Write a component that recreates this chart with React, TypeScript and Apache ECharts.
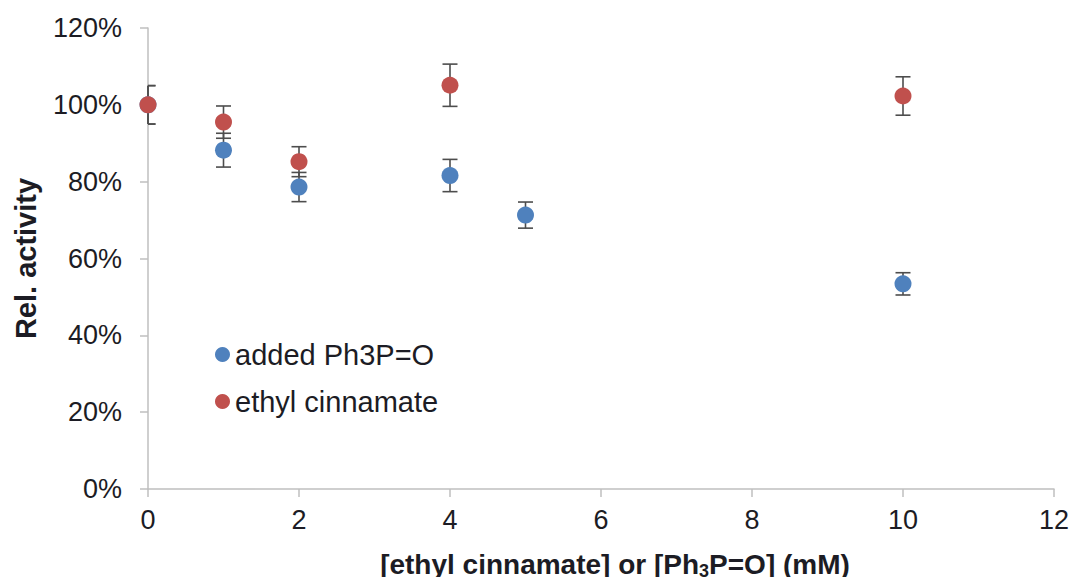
import React, { useEffect, useRef } from "react";
import * as echarts from "echarts";

// Concentration (mM)
const phosphineOxideX = [0, 1, 2, 4, 5, 10];
const phosphineOxideY = [100, 88.2, 78.6, 81.6, 71.3, 53.4];
const phosphineOxideErr = [5.0, 4.4, 3.8, 4.2, 3.4, 2.9];

const cinnamateX = [0, 1, 2, 4, 10];
const cinnamateY = [100, 95.5, 85.2, 105.1, 102.3];
const cinnamateErr = [5.0, 4.2, 3.9, 5.5, 5.0];

const seriesNames = ["added Ph3P=O", "ethyl cinnamate"];
const seriesColors = ["#4F81BD", "#C0504D"];

const FONT = "'Liberation Sans', Arial, sans-serif";
const TEXT_COLOR = "#1c1c24";
const AXIS_COLOR = "#BFBFBF";

const points = (xs: number[], ys: number[]) => xs.map((x, i) => [x, ys[i]]);
const bars = (xs: number[], ys: number[], es: number[]) =>
  xs.map((x, i) => [x, ys[i] - es[i], ys[i] + es[i]]);

function errorBarSeries(name: string, data: number[][]) {
  return {
    type: "custom",
    name,
    z: 1,
    silent: true,
    data,
    renderItem: (params: any, api: any) => {
      const x = api.value(0);
      const lo = api.coord([x, api.value(1)]);
      const hi = api.coord([x, api.value(2)]);
      const half = 7.5;
      const left = params.coordSys.x;
      const style = { stroke: "#4d4d4d", lineWidth: 1.6 };
      const cap = (y: number) => ({
        type: "line",
        shape: { x1: Math.max(lo[0] - half, left), y1: y, x2: lo[0] + half, y2: y },
        style,
      });
      return {
        type: "group",
        children: [
          { type: "line", shape: { x1: lo[0], y1: lo[1], x2: hi[0], y2: hi[1] }, style },
          cap(lo[1]),
          cap(hi[1]),
        ],
      };
    },
  };
}

export default function App() {
  const ref = useRef<HTMLDivElement>(null);

  useEffect(() => {
    if (!ref.current) return;
    const chart = echarts.init(ref.current, undefined, { renderer: "svg" });
    chart.setOption({
      animation: false,
      textStyle: { fontFamily: FONT },
      grid: { left: 148, right: 23, top: 28, bottom: 91 },
      legend: {
        data: seriesNames,
        orient: "vertical",
        left: 210,
        top: 335,
        icon: "circle",
        itemWidth: 15,
        itemHeight: 15,
        itemGap: 18,
        textStyle: { fontFamily: FONT, fontSize: 29, color: TEXT_COLOR },
      },
      xAxis: {
        type: "value",
        min: 0,
        max: 12,
        interval: 2,
        name: "[ethyl cinnamate] or [Ph{sub|3}P=O] (mM)",
        nameLocation: "middle",
        nameGap: 59,
        nameTextStyle: {
          fontFamily: FONT,
          fontSize: 28,
          fontWeight: "bold",
          color: TEXT_COLOR,
          padding: [0, 0, 0, 28],
          rich: {
            sub: {
              fontFamily: FONT,
              fontSize: 18,
              fontWeight: "bold",
              color: TEXT_COLOR,
              padding: [14, 0, 0, 0],
            },
          },
        },
        axisLine: { show: true, lineStyle: { color: AXIS_COLOR, width: 1.5 } },
        axisTick: { show: true, length: 8, lineStyle: { color: AXIS_COLOR, width: 1.5 } },
        axisLabel: { fontFamily: FONT, fontSize: 27, color: TEXT_COLOR, margin: 17 },
        splitLine: { show: false },
      },
      yAxis: {
        type: "value",
        min: 0,
        max: 120,
        interval: 20,
        name: "Rel. activity",
        nameLocation: "middle",
        nameGap: 108,
        nameTextStyle: { fontFamily: FONT, fontSize: 29, fontWeight: "bold", color: TEXT_COLOR },
        axisLine: { show: true, lineStyle: { color: AXIS_COLOR, width: 1.5 } },
        axisTick: { show: true, length: 8, lineStyle: { color: AXIS_COLOR, width: 1.5 } },
        axisLabel: {
          fontFamily: FONT,
          fontSize: 27,
          color: TEXT_COLOR,
          margin: 26,
          formatter: "{value}%",
        },
        splitLine: { show: false },
      },
      series: [
        errorBarSeries("err-0", bars(phosphineOxideX, phosphineOxideY, phosphineOxideErr)),
        {
          type: "scatter",
          name: seriesNames[0],
          z: 2,
          symbol: "circle",
          symbolSize: 17,
          itemStyle: { color: seriesColors[0], opacity: 1 },
          data: points(phosphineOxideX, phosphineOxideY),
        },
        errorBarSeries("err-1", bars(cinnamateX, cinnamateY, cinnamateErr)),
        {
          type: "scatter",
          name: seriesNames[1],
          z: 3,
          symbol: "circle",
          symbolSize: 17,
          itemStyle: { color: seriesColors[1], opacity: 1 },
          data: points(cinnamateX, cinnamateY),
        },
      ],
    });
    return () => chart.dispose();
  }, []);

  return <div ref={ref} style={{ width: 1077, height: 585, margin: -8 }} />;
}
